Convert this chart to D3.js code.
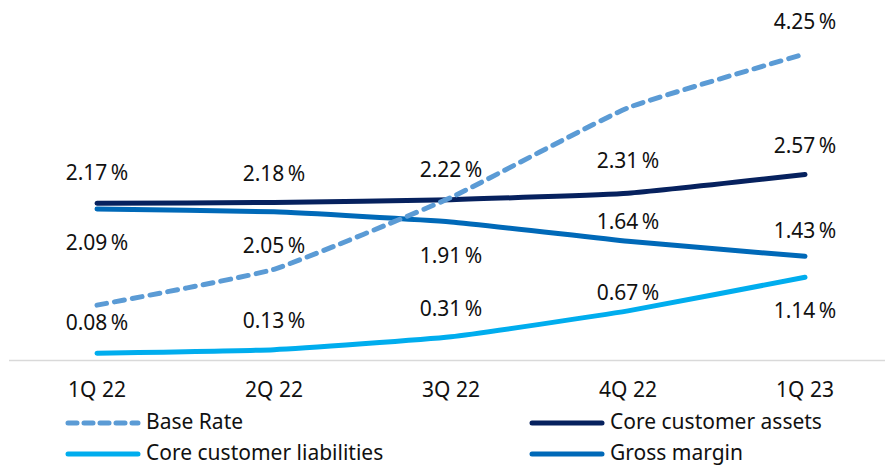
<!DOCTYPE html>
<html>
<head>
<meta charset="utf-8">
<script src="https://cdn.jsdelivr.net/npm/d3@7"></script>
<style>
  body { margin: 0; background: #fff; }
  text { font-family: "Noto Sans", sans-serif; fill: #111; }
</style>
</head>
<body>
<script>
// quarters and the four rate series (%)
let quarters = ['1Q 22', '2Q 22', '3Q 22', '4Q 22', '1Q 23'];
let baseRate = [0.75, 1.25, 2.25, 3.5, 4.25];
let coreAssets = [2.17, 2.18, 2.22, 2.31, 2.57];
let coreLiabilities = [0.08, 0.13, 0.31, 0.67, 1.14];
let grossMargin = [2.09, 2.05, 1.91, 1.64, 1.43];

// which points carry a label (base rate only labelled at the end)
let baseRateLabelled = [false, false, false, false, true];

let svgWidth = 885, svgHeight = 466, fontSize = 21;

let svg = d3.select('body').append('svg')
    .attr('width', svgWidth).attr('height', svgHeight)

let xScale = d3.scaleBand()
    .domain(quarters)
    .range([8.5, 893.5])
    .padding(0)

let yScale = d3.scaleLinear()
    .domain([0, 4.5])
    .range([359, 36])

let cx = (i) => xScale(quarters[i]) + xScale.bandwidth() / 2

// x axis
let x_axis = d3.axisBottom(xScale).tickSize(0).tickSizeOuter(0)
let gx = svg.append('g').attr('transform', 'translate(0,360)').call(x_axis)
gx.select('.domain').attr('stroke', '#d9d9d9').attr('stroke-width', 1.5)
gx.selectAll('text')
    .attr('y', 22)
    .attr('font-size', fontSize)
    .attr('font-family', '"Noto Sans", sans-serif')
    .attr('fill', '#111')

let series = [
    {name: 'Base Rate', values: baseRate, color: '#5b9bd5', dash: '10,8',
     labelDy: [0, 0, 0, 0, -25], show: baseRateLabelled},
    {name: 'Core customer assets', values: coreAssets, color: '#06215e', dash: null,
     labelDy: [-23, -22, -23, -25, -22]},
    {name: 'Core customer liabilities', values: coreLiabilities, color: '#00adee', dash: null,
     labelDy: [-23, -22, -21, -11, 41]},
    {name: 'Gross margin', values: grossMargin, color: '#0069b8', dash: null,
     labelDy: [41, 41, 41, -12, -18]}
]

let line = d3.line()
    .x((d, i) => cx(i))
    .y((d) => yScale(d))
    .curve(d3.curveCardinal.tension(0.6))

// draw in order: liabilities, gross margin, assets, base rate on top
let drawOrder = [2, 3, 1, 0]
drawOrder.forEach((k) => {
    let s = series[k]
    svg.append('path')
        .datum(s.values)
        .attr('d', line)
        .attr('fill', 'none')
        .attr('stroke', s.color)
        .attr('stroke-width', 5)
        .attr('stroke-linecap', 'round')
        .attr('stroke-linejoin', 'round')
        .attr('stroke-dasharray', s.dash)
})

// value labels
series.forEach((s) => {
    svg.append('g').selectAll('text')
        .data(s.values)
        .enter()
        .filter((d, i) => !s.show || s.show[i])
        .append('text')
        .attr('x', (d) => cx(s.values.indexOf(d)))
        .attr('y', (d) => { let i = s.values.indexOf(d); return yScale(d) + s.labelDy[i] })
        .attr('text-anchor', 'middle')
        .attr('font-size', fontSize)
        .text((d) => d.toFixed(2) + '\u2009%')
})

// legend
let legendPos = [[68, 423], [532, 423], [68, 454], [532, 454]]
let legendOrder = [0, 1, 2, 3]
legendOrder.forEach((k, j) => {
    let s = series[k]
    let p = legendPos[j]
    let lg = svg.append('g').attr('transform', 'translate(' + p + ')')
    lg.append('line')
        .attr('x1', 0).attr('x2', 70)
        .attr('stroke', s.color)
        .attr('stroke-width', 5)
        .attr('stroke-linecap', 'round')
        .attr('stroke-dasharray', s.dash ? '9,7' : null)
    lg.append('text')
        .attr('x', 78)
        .attr('y', 6)
        .attr('font-size', fontSize)
        .text(s.name)
})
</script>
</body>
</html>
